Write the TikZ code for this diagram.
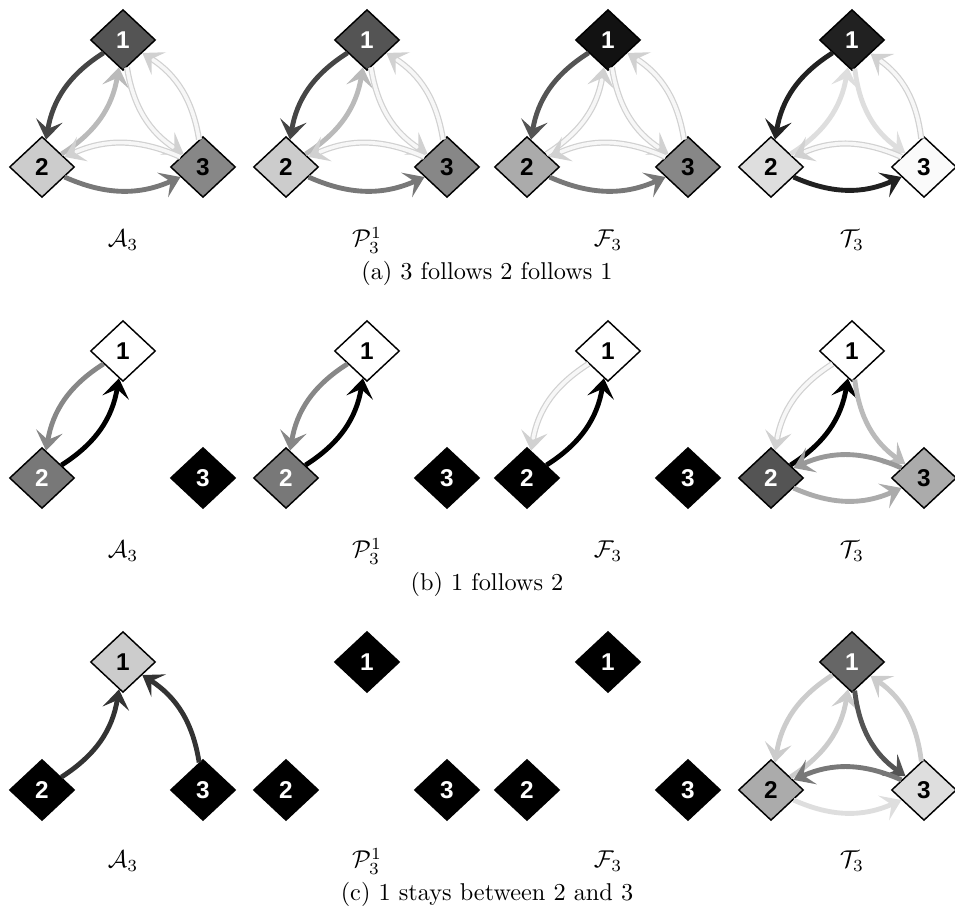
\documentclass[tikz,border=0pt]{standalone}
\usepackage{amsmath,amssymb}
\usepackage{fontspec}
\setsansfont{Liberation Sans}
\usetikzlibrary{arrows.meta,shapes.geometric}

\begin{document}
\begin{tikzpicture}[
    x=0.01446cm, y=-0.01446cm,
    agent/.style={diamond, draw, line width=0.6pt, minimum width=0.94cm, minimum height=0.88cm, inner sep=0pt, fill=#1, font=\sffamily\bfseries\fontsize{10}{10}\selectfont},
    dark/.style={agent=#1, text=white},
    light/.style={agent=#1, text=black},
    link/.style={-{Stealth[length=8pt, width=11pt, inset=3.5pt]}, line width=2pt, draw=#1, bend right=24},
    faint/.style={-{Stealth[length=8pt, width=11pt, inset=3.5pt]}, draw=black!18, line width=0.5pt, double=black!3, double distance=1.5pt, bend right=24},
    panel/.style={anchor=base, inner sep=0.5pt},
    subcap/.style={anchor=base, inner sep=0.5pt}
]
\useasboundingbox (0,0) rectangle (955,913);

% (a) 3 follows 2 follows 1
\node[dark=black!67] (aA1) at (123,40) {1};
\node[light=black!20] (aA2) at (42,167) {2};
\node[light=black!47] (aA3) at (203,167) {3};
\draw[link=black!73] (aA1) to (aA2);
\draw[link=black!27] (aA2) to (aA1);
\draw[faint] (aA1) to (aA3);
\draw[faint] (aA3) to (aA1);
\draw[faint] (aA3) to (aA2);
\draw[link=black!53] (aA2) to (aA3);

\node[dark=black!67] (aP1) at (367,40) {1};
\node[light=black!20] (aP2) at (286,167) {2};
\node[light=black!47] (aP3) at (447,167) {3};
\draw[link=black!73] (aP1) to (aP2);
\draw[link=black!27] (aP2) to (aP1);
\draw[faint] (aP1) to (aP3);
\draw[faint] (aP3) to (aP1);
\draw[faint] (aP3) to (aP2);
\draw[link=black!53] (aP2) to (aP3);

\node[dark=black!93] (aF1) at (608,40) {1};
\node[light=black!33] (aF2) at (527,167) {2};
\node[light=black!47] (aF3) at (688,167) {3};
\draw[link=black!67] (aF1) to (aF2);
\draw[faint] (aF2) to (aF1);
\draw[faint] (aF1) to (aF3);
\draw[faint] (aF3) to (aF1);
\draw[faint] (aF3) to (aF2);
\draw[link=black!53] (aF2) to (aF3);

\node[dark=black!87] (aT1) at (852,40) {1};
\node[light=black!13] (aT2) at (771,167) {2};
\node[light=black!2] (aT3) at (924,167) {3};
\draw[link=black!87] (aT1) to (aT2);
\draw[link=black!13] (aT2) to (aT1);
\draw[link=black!13] (aT1) to (aT3);
\draw[faint] (aT3) to (aT1);
\draw[faint] (aT3) to (aT2);
\draw[link=black!87] (aT2) to (aT3);

\node[panel] (aAl) at (123,247) {$\mathcal{A}_3$};
\node[panel] (aPl) at (367,247) {$\mathcal{P}_3^1$};
\node[panel] (aFl) at (608,247) {$\mathcal{F}_3$};
\node[panel] (aTl) at (852,247) {$\mathcal{T}_3$};
\node[subcap] (acap) at (487,280) {(a) 3 follows 2 follows 1};

% (b) 1 follows 2
\node[light=white] (bA1) at (123,351) {1};
\node[dark=black!53] (bA2) at (42,478) {2};
\node[dark=black] (bA3) at (203,478) {3};
\draw[link=black!47] (bA1) to (bA2);
\draw[link=black] (bA2) to (bA1);

\node[light=white] (bP1) at (367,351) {1};
\node[dark=black!53] (bP2) at (286,478) {2};
\node[dark=black] (bP3) at (447,478) {3};
\draw[link=black!47] (bP1) to (bP2);
\draw[link=black] (bP2) to (bP1);

\node[light=white] (bF1) at (608,351) {1};
\node[dark=black] (bF2) at (527,478) {2};
\node[dark=black] (bF3) at (688,478) {3};
\draw[faint] (bF1) to (bF2);
\draw[link=black] (bF2) to (bF1);

\node[light=white] (bT1) at (852,351) {1};
\node[dark=black!67] (bT2) at (771,478) {2};
\node[light=black!33] (bT3) at (924,478) {3};
\draw[faint] (bT1) to (bT2);
\draw[link=black] (bT2) to (bT1);
\draw[link=black!27] (bT1) to (bT3);
\draw[link=black!40] (bT3) to (bT2);
\draw[link=black!33] (bT2) to (bT3);

\node[panel] (bAl) at (123,558) {$\mathcal{A}_3$};
\node[panel] (bPl) at (367,558) {$\mathcal{P}_3^1$};
\node[panel] (bFl) at (608,558) {$\mathcal{F}_3$};
\node[panel] (bTl) at (852,558) {$\mathcal{T}_3$};
\node[subcap] (bcap) at (487,591) {(b) 1 follows 2};

% (c) 1 stays between 2 and 3
\node[light=black!20] (cA1) at (123,662) {1};
\node[dark=black] (cA2) at (42,790) {2};
\node[dark=black] (cA3) at (203,790) {3};
\draw[link=black!80] (cA2) to (cA1);
\draw[link=black!80] (cA3) to (cA1);

\node[dark=black] (cP1) at (367,662) {1};
\node[dark=black] (cP2) at (286,790) {2};
\node[dark=black] (cP3) at (447,790) {3};

\node[dark=black] (cF1) at (608,662) {1};
\node[dark=black] (cF2) at (527,790) {2};
\node[dark=black] (cF3) at (688,790) {3};

\node[dark=black!60] (cT1) at (852,662) {1};
\node[light=black!33] (cT2) at (771,790) {2};
\node[light=black!13] (cT3) at (924,790) {3};
\draw[link=black!20] (cT1) to (cT2);
\draw[link=black!20] (cT2) to (cT1);
\draw[link=black!67] (cT1) to (cT3);
\draw[link=black!20] (cT3) to (cT1);
\draw[link=black!53] (cT3) to (cT2);
\draw[link=black!13] (cT2) to (cT3);

\node[panel] (cAl) at (123,868) {$\mathcal{A}_3$};
\node[panel] (cPl) at (367,868) {$\mathcal{P}_3^1$};
\node[panel] (cFl) at (608,868) {$\mathcal{F}_3$};
\node[panel] (cTl) at (852,868) {$\mathcal{T}_3$};
\node[subcap] (ccap) at (487,901) {(c) 1 stays between 2 and 3};
\end{tikzpicture}
\end{document}
